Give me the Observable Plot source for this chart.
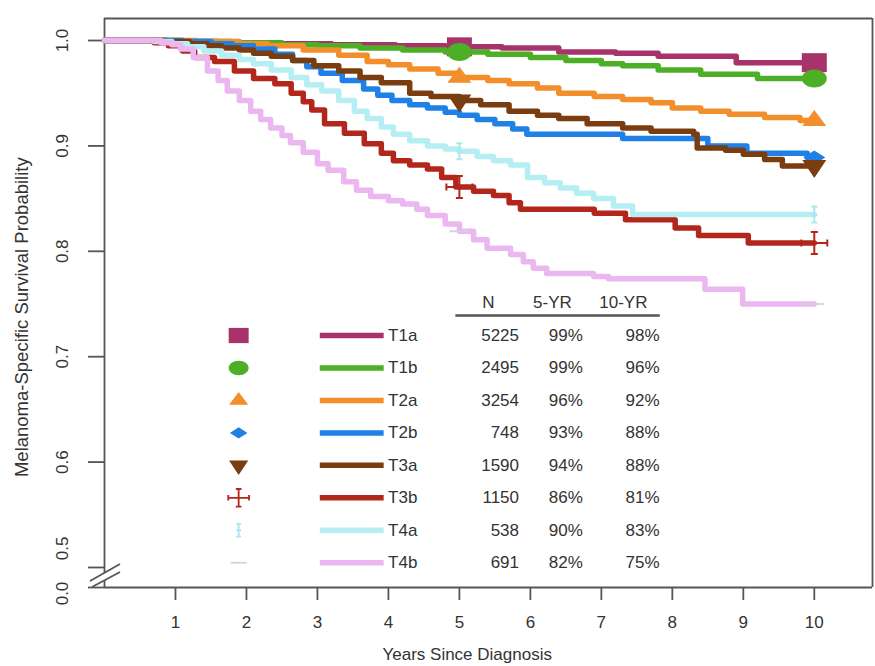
<!DOCTYPE html>
<html><head><meta charset="utf-8">
<script src="https://cdn.jsdelivr.net/npm/d3@7"></script>
<script src="https://cdn.jsdelivr.net/npm/@observablehq/plot@0.6"></script>
<style>body{margin:0;background:#fff;} #chart{width:875px;height:666px;}</style>
</head><body><div id="chart"></div>
<script>
// ---------- data ----------
const groups = ["T1a","T1b","T2a","T2b","T3a","T3b","T4a","T4b"];
const nPatients = [5225,2495,3254,748,1590,1150,538,691];
const fiveYr = ["99%","99%","96%","93%","94%","86%","90%","82%"];
const tenYr = ["98%","96%","92%","88%","88%","81%","83%","75%"];
const xTicks = [1,2,3,4,5,6,7,8,9,10];
const yTicks = [0.6,0.7,0.8,0.9,1.0];
const yTickLabels = ["0.6","0.7","0.8","0.9","1.0"];
const markTimes = [5,10];

const T1a = [[0,1],[0.9,0.999],[1.6,0.998],[2.4,0.997],[3.2,0.996],[4.1,0.995],[4.8,0.994],[5.6,0.993],[6.4,0.989],[7.2,0.988],[7.8,0.985],[8.9,0.979],[10,0.979]];
const T1b = [[0,1],[1.1,0.999],[1.8,0.998],[2.5,0.996],[3.0,0.995],[3.6,0.993],[4.2,0.991],[4.8,0.989],[5.4,0.987],[6.0,0.984],[6.5,0.981],[7.0,0.978],[7.3,0.976],[7.8,0.972],[8.4,0.968],[9.2,0.964],[10,0.964]];
const T2a = [[0,1],[1.3,0.999],[1.9,0.997],[2.3,0.995],[2.8,0.991],[3.3,0.986],[3.7,0.980],[4.0,0.977],[4.3,0.973],[4.7,0.969],[5.0,0.965],[5.4,0.962],[5.7,0.959],[6.1,0.955],[6.4,0.950],[6.9,0.947],[7.3,0.944],[7.7,0.941],[8.0,0.936],[8.4,0.933],[8.8,0.930],[9.3,0.927],[9.8,0.924],[10,0.924]];
const T2b = [[0,1],[1.1,0.999],[1.5,0.997],[1.8,0.995],[2.1,0.992],[2.4,0.987],[2.65,0.981],[2.85,0.975],[3.05,0.969],[3.35,0.962],[3.65,0.954],[3.85,0.948],[4.05,0.943],[4.3,0.939],[4.55,0.936],[4.8,0.932],[5.0,0.929],[5.25,0.925],[5.5,0.921],[5.75,0.916],[5.95,0.911],[7.3,0.907],[8.5,0.900],[9.05,0.893],[9.9,0.889],[10,0.889]];
const T3a = [[0,1],[0.85,0.999],[1.2,0.997],[1.45,0.995],[1.65,0.993],[1.9,0.991],[2.1,0.988],[2.35,0.985],[2.65,0.981],[2.95,0.976],[3.3,0.971],[3.6,0.965],[3.9,0.960],[4.3,0.950],[4.6,0.947],[5.0,0.943],[5.3,0.939],[5.7,0.933],[6.1,0.929],[6.4,0.926],[6.8,0.921],[7.3,0.917],[7.7,0.914],[8.3,0.911],[8.35,0.898],[8.75,0.896],[9.0,0.892],[9.3,0.887],[9.55,0.881],[10,0.881]];
const T3b = [[0,1],[0.7,0.998],[0.9,0.995],[1.1,0.990],[1.27,0.984],[1.55,0.980],[1.83,0.971],[2.1,0.964],[2.4,0.959],[2.63,0.950],[2.8,0.942],[2.92,0.934],[3.1,0.921],[3.38,0.912],[3.66,0.902],[3.9,0.893],[4.07,0.886],[4.3,0.882],[4.55,0.878],[4.75,0.870],[4.95,0.861],[5.2,0.857],[5.48,0.853],[5.7,0.846],[5.86,0.840],[6.9,0.836],[7.34,0.830],[8.04,0.822],[8.37,0.815],[9.07,0.808],[10,0.808]];
const T4a = [[0,1],[0.7,0.999],[0.95,0.997],[1.17,0.994],[1.4,0.990],[1.65,0.986],[1.9,0.982],[2.1,0.978],[2.35,0.972],[2.63,0.965],[2.85,0.958],[3.06,0.952],[3.3,0.943],[3.52,0.933],[3.7,0.926],[3.9,0.918],[4.07,0.911],[4.3,0.905],[4.55,0.900],[4.8,0.897],[5.0,0.895],[5.25,0.890],[5.48,0.886],[5.72,0.882],[5.96,0.870],[6.2,0.865],[6.42,0.860],[6.65,0.855],[6.89,0.850],[7.17,0.843],[7.44,0.835],[10,0.835]];
const T4b = [[0,1],[0.8,0.998],[0.95,0.996],[1.07,0.992],[1.25,0.984],[1.45,0.971],[1.6,0.962],[1.73,0.952],[1.9,0.943],[2.06,0.933],[2.2,0.925],[2.34,0.917],[2.5,0.910],[2.62,0.903],[2.8,0.894],[3.0,0.883],[3.15,0.877],[3.37,0.866],[3.55,0.858],[3.75,0.852],[4.0,0.848],[4.2,0.845],[4.4,0.840],[4.55,0.834],[4.8,0.826],[5.0,0.819],[5.2,0.811],[5.39,0.803],[5.72,0.797],[5.9,0.790],[6.04,0.784],[6.23,0.779],[6.89,0.776],[7.1,0.774],[8.46,0.764],[8.99,0.750],[10,0.750]];
const curves = [T1a,T1b,T2a,T2b,T3a,T3b,T4a,T4b];

// ---------- styles ----------
const colors = ["#a8336b","#4daf26","#f28e2c","#1f80e6","#7a3d10","#b3261b","#b5eef3","#ebb7f1"];
const markerColors = ["#a8336b","#4daf26","#f28e2c","#1f80e6","#7a3d10","#b3261b","#a9e8ee","#d9cfe0"];
const TXT = "#333", AX = "#555";

function rectSym(w,h){return {draw(c){c.moveTo(-w/2,-h/2);c.lineTo(w/2,-h/2);c.lineTo(w/2,h/2);c.lineTo(-w/2,h/2);c.closePath();}};}
function ellSym(w,h){const k=0.5523,a=w/2,b=h/2;return {draw(c){c.moveTo(a,0);c.bezierCurveTo(a,k*b,k*a,b,0,b);c.bezierCurveTo(-k*a,b,-a,k*b,-a,0);c.bezierCurveTo(-a,-k*b,-k*a,-b,0,-b);c.bezierCurveTo(k*a,-b,a,-k*b,a,0);c.closePath();}};}
function triSym(w,h,down){const s=down?-1:1;return {draw(c){c.moveTo(0,-s*h*2/3);c.lineTo(w/2,s*h/3);c.lineTo(-w/2,s*h/3);c.closePath();}};}
function diaSym(w,h){return {draw(c){c.moveTo(0,-h/2);c.lineTo(w/2,0);c.lineTo(0,h/2);c.lineTo(-w/2,0);c.closePath();}};}
function crossSym(s){const a=13*s,b=11*s,cap=3.5*s;return {draw(c){c.moveTo(-a,0);c.lineTo(a,0);c.moveTo(0,-b);c.lineTo(0,b);c.moveTo(-a,-cap);c.lineTo(-a,cap);c.moveTo(a,-cap);c.lineTo(a,cap);c.moveTo(-cap,-b);c.lineTo(cap,-b);c.moveTo(-cap,b);c.lineTo(cap,b);}};}
function iSym(s){const b=8*s,cap=3*s;return {draw(c){c.moveTo(0,-b);c.lineTo(0,b);c.moveTo(-cap,-b);c.lineTo(cap,-b);c.moveTo(-cap,b);c.lineTo(cap,b);c.moveTo(-cap,0);c.lineTo(cap,0);}};}
function dashSym(s){const a=10*s;return {draw(c){c.moveTo(-a,0);c.lineTo(a,0);}};}

function symbolFor(i, s){
  switch(i){
    case 0: return {sym: rectSym(25*s,19*s), filled:true};
    case 1: return {sym: ellSym(25*s,18*s), filled:true};
    case 2: return {sym: triSym(24*s,16*s,false), filled:true};
    case 3: return {sym: diaSym(22*s,14*s), filled:true};
    case 4: return {sym: triSym(24*s,18*s,true), filled:true};
    case 5: return {sym: crossSym(s), filled:false};
    case 6: return {sym: iSym(s), filled:false};
    default: return {sym: dashSym(s), filled:false};
  }
}

const stepAt = (curve, t) => { let v = curve[0][1]; for (const [ti, si] of curve) if (ti <= t) v = si; return v; };

// ---------- scale geometry ----------
const X_MAX = 10.82, Y_TOP = 1.0209, Y_ZERO = 0.481, Y_BREAK = 0.4915;

// legend layout (in data units)
const LG = {mx: 1.89, lx1: 3.04, lx2: 3.94, tx: 3.995, nx: 5.84, fx: 6.74, tx10: 7.82,
            row0: 0.7201, step: 0.0308, head: 0.7514, rule: 0.7391, rx1: 4.95, rx2: 7.83,
            hN: 5.41, h5: 6.31, h10: 7.31};
const rows = groups.map((g,i) => ({g, i, n: nPatients[i], f: fiveYr[i], t: tenYr[i], y: LG.row0 - i*LG.step}));

const marks = [];
// frame
marks.push(Plot.ruleY([Y_TOP], {x1: 0, x2: X_MAX, stroke: AX, strokeWidth: 1.8}));
marks.push(Plot.ruleY([Y_ZERO], {x1: 0, x2: X_MAX, stroke: AX, strokeWidth: 1.8}));
marks.push(Plot.ruleX([X_MAX], {y1: Y_ZERO, y2: Y_TOP, stroke: AX, strokeWidth: 1.8}));
marks.push(Plot.ruleX([0], {y1: Y_ZERO, y2: Y_TOP, stroke: AX, strokeWidth: 1.8}));

// axes
marks.push(Plot.axisX({ticks: xTicks, tickSize: 13, tickPadding: 15, label: null, stroke: AX, fill: TXT, strokeWidth: 1.8, fontSize: 17}));
marks.push(Plot.axisY({ticks: [Y_ZERO, 0.5, ...yTicks], tickSize: 16, tickFormat: () => "", label: null, stroke: AX, strokeWidth: 1.8}));
marks.push(Plot.text(yTicks, {frameAnchor: "left", y: d => d, text: (d,i) => yTickLabels[i], rotate: -90, dx: -42, textAnchor: "middle", fill: TXT, fontSize: 17}));
marks.push(Plot.text(["0.5"], {frameAnchor: "left", y: () => 0.5, text: d => d, rotate: -90, dx: -42, dy: -19, textAnchor: "middle", fill: TXT, fontSize: 17}));
marks.push(Plot.text(["0.0"], {frameAnchor: "left", y: () => Y_ZERO, text: d => d, rotate: -90, dx: -42, dy: 6, textAnchor: "middle", fill: TXT, fontSize: 17}));

// axis break
marks.push((index, scales) => {
  const x0 = scales.x(0), yb = scales.y(Y_BREAK);
  const g = d3.create("svg:g");
  const a1 = [x0-14, yb+5], a2 = [x0+16, yb-12], b1 = [x0-12, yb+11], b2 = [x0+16, yb-4];
  g.append("path").attr("d", `M${a1}L${a2}L${b2}L${b1}Z`).attr("fill", "white");
  g.append("path").attr("d", `M${a1}L${a2}M${b1}L${b2}`).attr("stroke", AX).attr("stroke-width", 1.8).attr("fill", "none");
  return g.node();
});

// titles
marks.push(Plot.text(["Years Since Diagnosis"], {x: () => 5.11, frameAnchor: "bottom", dy: 72, text: d => d, textAnchor: "middle", fill: TXT, fontSize: 17}));
marks.push(Plot.text(["Melanoma-Specific Survival Probability"], {frameAnchor: "left", y: () => 0.7375, dx: -82, rotate: -90, text: d => d, textAnchor: "middle", fill: TXT, fontSize: 18.5}));

// curves + markers
curves.forEach((curve, i) => {
  marks.push(Plot.line(curve, {x: d => d[0], y: d => d[1], curve: "step-after", stroke: colors[i], strokeWidth: 5.5}));
  const pts = markTimes.map(t => ({t, s: stepAt(curve, t)}));
  const {sym, filled} = symbolFor(i, 1);
  const ptsShown = i === 3 ? pts.slice(1) : pts;
  marks.push(Plot.dot(ptsShown, {x: "t", y: "s", symbol: sym, r: 8,
    fill: filled ? markerColors[i] : "none", stroke: filled ? "none" : markerColors[i], strokeWidth: 2}));
});

// legend
marks.push(Plot.text(["N"], {x: () => LG.hN, y: () => LG.head, text: d => d, fill: TXT, fontSize: 17}));
marks.push(Plot.text(["5-YR"], {x: () => LG.h5, y: () => LG.head, text: d => d, fill: TXT, fontSize: 17}));
marks.push(Plot.text(["10-YR"], {x: () => LG.h10, y: () => LG.head, text: d => d, fill: TXT, fontSize: 17}));
marks.push(Plot.ruleY([LG.rule], {x1: LG.rx1, x2: LG.rx2, stroke: AX, strokeWidth: 2.5}));
rows.forEach(r => {
  const {sym, filled} = symbolFor(r.i, 0.8);
  marks.push(Plot.dot([r], {x: () => LG.mx, y: "y", symbol: sym, r: 8,
    fill: filled ? markerColors[r.i] : "none", stroke: filled ? "none" : markerColors[r.i], strokeWidth: 1.8}));
  marks.push(Plot.ruleY([r], {y: "y", x1: LG.lx1, x2: LG.lx2, stroke: colors[r.i], strokeWidth: 5.5}));
});
marks.push(Plot.text(rows, {x: () => LG.tx, y: "y", text: "g", textAnchor: "start", fill: TXT, fontSize: 17}));
marks.push(Plot.text(rows, {x: () => LG.nx, y: "y", text: d => String(d.n), textAnchor: "end", fill: TXT, fontSize: 17}));
marks.push(Plot.text(rows, {x: () => LG.fx, y: "y", text: "f", textAnchor: "end", fill: TXT, fontSize: 17}));
marks.push(Plot.text(rows, {x: () => LG.tx10, y: "y", text: "t", textAnchor: "end", fill: TXT, fontSize: 17}));

const plot = Plot.plot({
  width: 875, height: 666,
  marginLeft: 104, marginRight: 3, marginTop: 18, marginBottom: 79,
  x: {domain: [0, X_MAX]},
  y: {domain: [Y_ZERO, Y_TOP]},
  style: {fontFamily: "'Liberation Sans', Arial, Helvetica, sans-serif", fontSize: "17px", color: TXT, background: "white", overflow: "visible"},
  marks
});
document.getElementById("chart").append(plot);
</script>
</body></html>
